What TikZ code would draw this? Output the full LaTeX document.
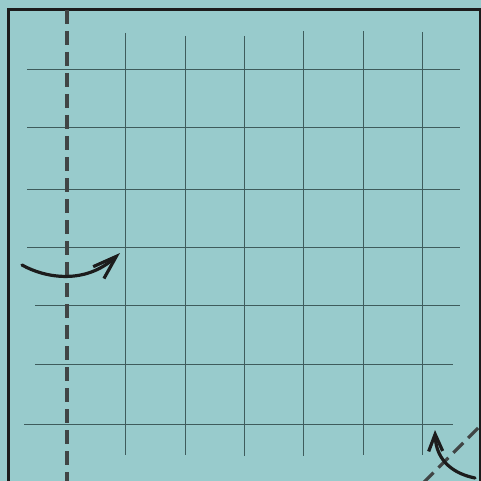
\documentclass[tikz,border=0pt]{standalone}
\usetikzlibrary{arrows.meta}
\definecolor{bgteal}{HTML}{98CBCC}
\definecolor{gridc}{HTML}{3E5C5C}
\definecolor{dashc}{HTML}{404545}
\definecolor{inkc}{HTML}{1C1C1C}
\tikzset{
  gridline/.style={draw=gridc, line width=1pt},
  foldline/.style={draw=dashc, line width=3.2pt, dash pattern=on 14pt off 7pt},
  arrowline/.style={draw=inkc, line width=3.2pt, line cap=round},
}
\begin{document}
\begin{tikzpicture}[x=1pt,y=-1pt]
\useasboundingbox (0,0) rectangle (481,481);
\fill[bgteal] (0,0) rectangle (481,481);
% grid horizontals
\draw[gridline] (27,70) -- (460,70);
\draw[gridline] (27,128) -- (460,128);
\draw[gridline] (27,189) -- (460,189);
\draw[gridline] (27,247) -- (460,247);
\draw[gridline] (35,305) -- (460,305);
\draw[gridline] (35,364) -- (453,364);
\draw[gridline] (24,424) -- (453,424);
% grid verticals
\draw[gridline] (125,33) -- (125,455);
\draw[gridline] (185,36) -- (185,455);
\draw[gridline] (244,36) -- (244,456);
\draw[gridline] (303,31) -- (303,456);
\draw[gridline] (363,31) -- (363,455);
\draw[gridline] (422,32) -- (422,455);
% border
\draw[inkc, line width=3pt] (8,490) -- (8,10) -- (481,10);
\draw[inkc, line width=1.8pt] (480,10) -- (480,490);
% fold lines
\draw[foldline] (67,10) -- (67,490);
\draw[foldline] (478,428) -- (420,486);
% arrows
\coordinate (a1s) at (22,265);
\coordinate (a1e) at (120,253);
\draw[arrowline, -{Straight Barb[length=24pt,width=16pt,line width=3.2pt]}] (a1s) .. controls (45,278) and (85,285) .. (a1e);
\coordinate (a2s) at (475,478);
\coordinate (a2e) at (435,430);
\draw[arrowline, -{Straight Barb[length=17pt,width=14pt,line width=3.2pt]}] (a2s) .. controls (455,474) and (436,462) .. (a2e);
\end{tikzpicture}
\end{document}
